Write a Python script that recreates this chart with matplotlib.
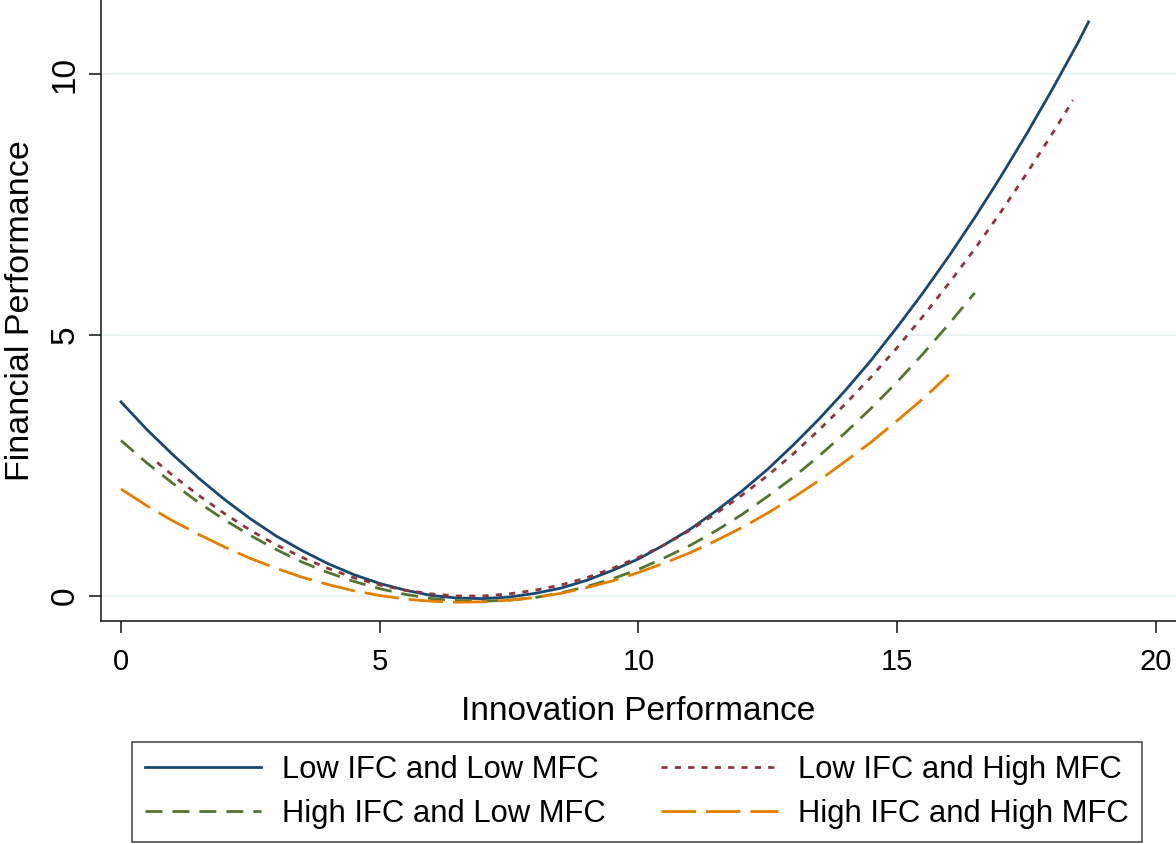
import matplotlib
matplotlib.use("Agg")

import matplotlib.pyplot as plt

# values (every half unit along x)
x_low_low = [0, 0.5, 1, 1.5, 2, 2.5, 3, 3.5, 4, 4.5, 5, 5.5, 6, 6.5, 7, 7.5, 8, 8.5,
             9, 9.5, 10, 10.5, 11, 11.5, 12, 12.5, 13, 13.5, 14, 14.5, 15, 15.5,
             16, 16.5, 17, 17.5, 18, 18.5, 18.7]
y_low_low = [3.72, 3.19, 2.71, 2.26, 1.85, 1.48, 1.15, 0.87, 0.62, 0.41, 0.24, 0.11,
             0.01, -0.04, -0.05, -0.02, 0.05, 0.15, 0.30, 0.49, 0.71, 0.98, 1.28,
             1.63, 2.01, 2.43, 2.90, 3.40, 3.94, 4.52, 5.15, 5.81, 6.51, 7.25, 8.03,
             8.85, 9.71, 10.61, 11.0]

x_low_high = [0.7, 1, 1.5, 2, 2.5, 3, 3.5, 4, 4.5, 5, 5.5, 6, 6.5, 7, 7.5, 8, 8.5,
              9, 9.5, 10, 10.5, 11, 11.5, 12, 12.5, 13, 13.5, 14, 14.5, 15, 15.5,
              16, 16.5, 17, 17.5, 18, 18.4]
y_low_high = [2.56, 2.31, 1.93, 1.58, 1.26, 0.98, 0.74, 0.53, 0.35, 0.21, 0.11, 0.04,
              0.00, 0.00, 0.04, 0.11, 0.21, 0.35, 0.53, 0.74, 0.98, 1.26, 1.58, 1.93,
              2.31, 2.73, 3.19, 3.68, 4.20, 4.76, 5.36, 5.99, 6.65, 7.35, 8.09, 8.86,
              9.50]

x_high_low = [0, 0.5, 1, 1.5, 2, 2.5, 3, 3.5, 4, 4.5, 5, 5.5, 6, 6.5, 7, 7.5, 8, 8.5,
              9, 9.5, 10, 10.5, 11, 11.5, 12, 12.5, 13, 13.5, 14, 14.5, 15, 15.5,
              16, 16.5]
y_high_low = [2.98, 2.55, 2.16, 1.79, 1.46, 1.16, 0.89, 0.65, 0.45, 0.28, 0.14, 0.03,
              -0.05, -0.09, -0.10, -0.08, -0.03, 0.06, 0.18, 0.33, 0.51, 0.73, 0.97,
              1.25, 1.56, 1.91, 2.28, 2.69, 3.13, 3.60, 4.10, 4.64, 5.21, 5.81]

x_high_high = [0, 0.5, 1, 1.5, 2, 2.5, 3, 3.5, 4, 4.5, 5, 5.5, 6, 6.5, 7, 7.5, 8,
               8.5, 9, 9.5, 10, 10.5, 11, 11.5, 12, 12.5, 13, 13.5, 14, 14.5, 15,
               15.5, 16]
y_high_high = [2.05, 1.73, 1.44, 1.18, 0.94, 0.72, 0.53, 0.36, 0.22, 0.10, 0.01, -0.06,
               -0.10, -0.12, -0.11, -0.08, -0.03, 0.05, 0.16, 0.29, 0.45, 0.63, 0.83,
               1.06, 1.31, 1.59, 1.89, 2.22, 2.58, 2.95, 3.36, 3.78, 4.24]

labels = [
    "Low IFC and Low MFC",
    "Low IFC and High MFC",
    "High IFC and Low MFC",
    "High IFC and High MFC",
]

x_ticks = [0, 5, 10, 15, 20]
y_ticks = [0, 5, 10]

plt.rcParams["font.family"] = ["Liberation Sans", "DejaVu Sans"]

fig = plt.figure(figsize=(11.76, 8.44), dpi=100)
ax = fig.add_axes([101 / 1176, 1 - 621 / 844, 1 - 101 / 1176, 621 / 844])

lw = 2.0
ax.plot(x_low_low, y_low_low, color="#1a476f", linewidth=lw, label=labels[0])
ax.plot(x_low_high, y_low_high, color="#90353b", linewidth=lw,
        dashes=(2.2, 2.6), label=labels[1])
ax.plot(x_high_low, y_high_low, color="#55752f", linewidth=lw,
        dashes=(6.1, 3.6), label=labels[2])
ax.plot(x_high_high, y_high_high, color="#e37e00", linewidth=lw,
        dashes=(12.4, 3.6), label=labels[3])

ax.set_xlim(-0.386, 20.39)
ax.set_ylim(-0.479, 11.42)
ax.set_xticks(x_ticks)
ax.set_yticks(y_ticks)
ax.set_yticklabels([str(v) for v in y_ticks], rotation=90, va="center")

ax.grid(True, axis="y", color="#eaf2f3", linewidth=1.6)
ax.set_axisbelow(True)

for side in ["top", "right"]:
    ax.spines[side].set_visible(False)
for side in ["left", "bottom"]:
    ax.spines[side].set_color("#111111")
    ax.spines[side].set_linewidth(1.1)

ax.tick_params(axis="x", length=8.6, width=1.1, color="#111111",
               labelsize=21, pad=11)
ax.tick_params(axis="y", length=8.6, width=1.1, color="#111111",
               labelsize=24, pad=6)

ax.set_xlabel("Innovation Performance", fontsize=24, labelpad=14)
ax.set_ylabel("Financial Performance", fontsize=24.5, labelpad=10)

# legend is filled column by column: row 1 = Low/Low, Low/High; row 2 = High/Low, High/High
handles, legend_labels = ax.get_legend_handles_labels()
order = [0, 2, 1, 3]
leg = fig.legend(
    [handles[i] for i in order],
    [legend_labels[i] for i in order],
    loc="upper left",
    bbox_to_anchor=(132 / 1176, 1 - 742 / 844),
    ncol=2,
    fontsize=22.35,
    frameon=True,
    fancybox=False,
    handlelength=3.75,
    handletextpad=0.65,
    columnspacing=1.8,
    labelspacing=0.45,
    borderpad=0.42,
    borderaxespad=0,
)
leg.get_frame().set_edgecolor("#111111")
leg.get_frame().set_linewidth(1.1)

fig.savefig("out.png", dpi=100)
